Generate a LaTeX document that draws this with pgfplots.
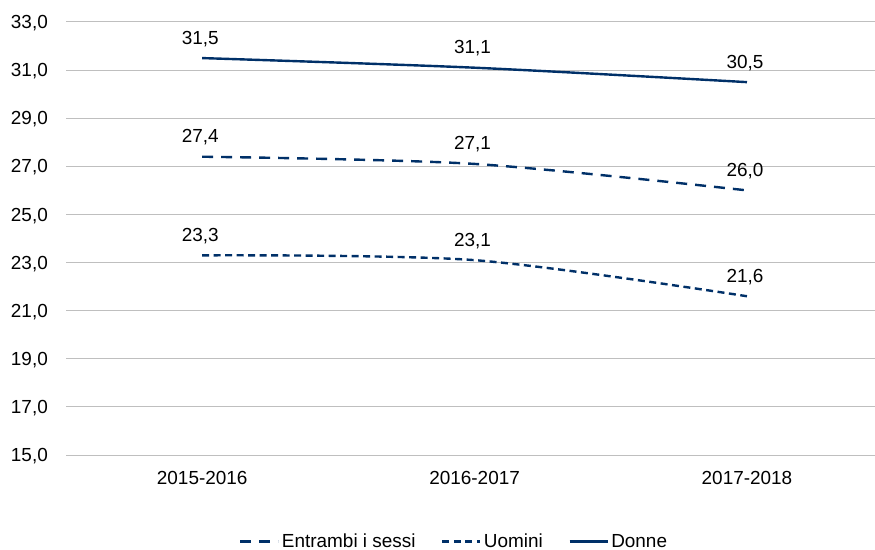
\documentclass[border=0pt]{standalone}
\usepackage{pgfplots}
\pgfplotsset{compat=1.18}
\usepackage{fontspec}
\setmainfont{Liberation Sans}
\definecolor{navy}{RGB}{0,48,104}
\definecolor{gridc}{RGB}{191,191,191}
\newcommand{\chartfont}{\fontsize{19}{22}\selectfont}
\begin{document}
\begin{tikzpicture}
\begin{axis}[
  scale only axis, width=809bp, height=433bp,
  xmin=-0.5, xmax=2.47, ymin=15, ymax=33,
  ytick={15,17,...,33},
  xtick={0,1,2}, xticklabels={2015-2016,2016-2017,2017-2018},
  axis line style={draw=none},
  ymajorgrids, grid style={gridc, line width=1bp},
  major tick length=0pt,
  clip=false,
  /pgf/number format/.cd, fixed, fixed zerofill, precision=1, use comma, assume math mode=true,
  /pgfplots/.cd,
  every tick label/.append style={font=\chartfont, text=black},
  yticklabel style={anchor=east, text depth=0pt, inner sep=0pt, xshift=-18bp},
  xticklabel style={anchor=base, inner sep=0pt, yshift=-29bp},
  nodes near coords,
  every node near coord/.append style={font=\chartfont, text=black, anchor=base, inner sep=0pt, yshift=14bp, xshift=-2bp},
  legend style={at={(0.48,-0.2)}, anchor=center, draw=none, fill=none, legend columns=3,
    font=\chartfont, /tikz/every even column/.append style={column sep=23bp},
    nodes={inner sep=2.5bp}},
  legend cell align=left,
  legend image code/.code={\draw[#1] (0bp,0bp) -- (38bp,0bp);},
]
\addplot[navy, line width=2.4bp, smooth, dash pattern=on 11bp off 8bp] coordinates {(0,27.4) (1,27.1) (2,26.0)};
\addlegendentry{Entrambi i sessi}
\addplot[navy, line width=2.4bp, smooth, dash pattern=on 7bp off 4.5bp] coordinates {(0,23.3) (1,23.1) (2,21.6)};
\addlegendentry{Uomini}
\addplot[navy, line width=2.4bp, smooth] coordinates {(0,31.5) (1,31.1) (2,30.5)};
\addlegendentry{Donne}
\end{axis}
\pgfresetboundingbox
\useasboundingbox (-66bp,-95bp) rectangle (809bp,455bp);
\end{tikzpicture}
\end{document}
